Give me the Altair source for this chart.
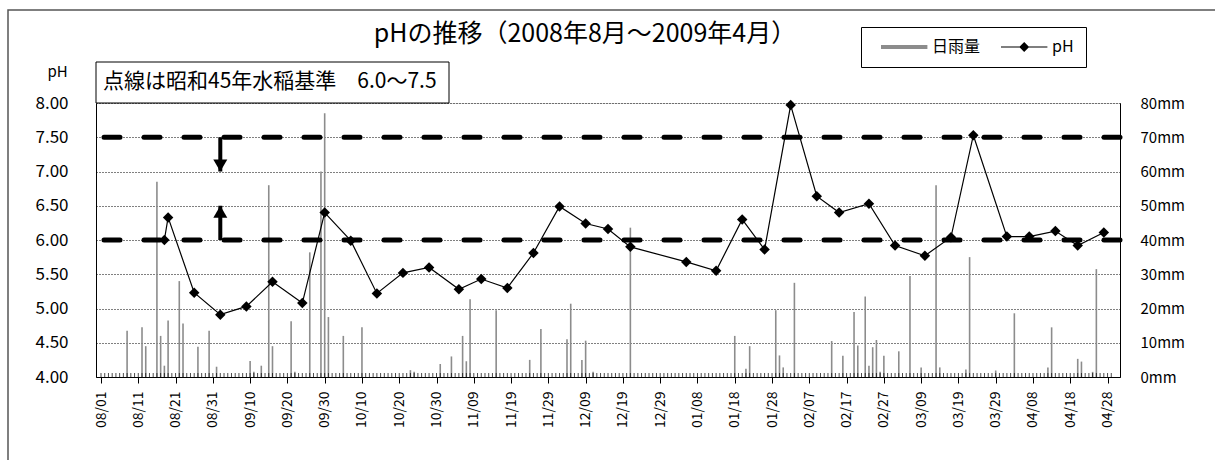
import altair as alt
import pandas as pd

FONT = "Noto Sans CJK JP"

# ---- data ----
ph_dates = ["2008-08-18", "2008-08-19", "2008-08-26", "2008-09-02", "2008-09-09", "2008-09-16",
            "2008-09-24", "2008-09-30", "2008-10-07", "2008-10-14", "2008-10-21", "2008-10-28",
            "2008-11-05", "2008-11-11", "2008-11-18", "2008-11-25", "2008-12-02", "2008-12-09",
            "2008-12-15", "2008-12-21", "2009-01-05", "2009-01-13", "2009-01-20", "2009-01-26",
            "2009-02-02", "2009-02-09", "2009-02-15", "2009-02-23", "2009-03-02", "2009-03-10",
            "2009-03-17", "2009-03-23", "2009-04-01", "2009-04-07", "2009-04-14", "2009-04-20",
            "2009-04-27"]
ph_values = [6.00, 6.33, 5.23, 4.91, 5.03, 5.39,
             5.08, 6.40, 5.99, 5.22, 5.52, 5.60,
             5.28, 5.43, 5.30, 5.81, 6.49, 6.24,
             6.16, 5.90, 5.68, 5.55, 6.30, 5.86,
             7.97, 6.64, 6.40, 6.53, 5.92, 5.77,
             6.04, 7.53, 6.05, 6.05, 6.13, 5.92,
             6.11]

rain_dates = ["2008-08-08", "2008-08-12", "2008-08-13", "2008-08-16", "2008-08-17", "2008-08-18",
              "2008-08-19", "2008-08-22", "2008-08-23", "2008-08-27", "2008-08-30", "2008-09-01",
              "2008-09-10", "2008-09-11", "2008-09-13", "2008-09-15", "2008-09-16", "2008-09-21",
              "2008-09-22", "2008-09-26", "2008-09-29", "2008-09-30", "2008-10-01", "2008-10-05",
              "2008-10-10", "2008-10-23", "2008-10-24", "2008-10-31", "2008-11-03", "2008-11-06",
              "2008-11-07", "2008-11-08", "2008-11-15", "2008-11-24", "2008-11-27", "2008-12-04",
              "2008-12-05", "2008-12-08", "2008-12-09", "2008-12-11", "2008-12-21", "2009-01-18",
              "2009-01-21", "2009-01-22", "2009-01-29", "2009-01-30", "2009-01-31", "2009-02-03",
              "2009-02-13", "2009-02-16", "2009-02-19", "2009-02-20", "2009-02-22", "2009-02-23",
              "2009-02-24", "2009-02-25", "2009-02-26", "2009-02-27", "2009-03-03", "2009-03-06",
              "2009-03-09", "2009-03-13", "2009-03-14", "2009-03-21", "2009-03-22", "2009-03-29",
              "2009-04-03", "2009-04-12", "2009-04-13", "2009-04-20", "2009-04-21", "2009-04-24",
              "2009-04-25"]
rain_mm = [13.5, 14.5, 9.0, 57.0, 12.0, 3.3,
           16.5, 28.0, 15.6, 8.8, 13.5, 3.0,
           4.7, 1.5, 3.3, 56.0, 9.0, 16.3,
           1.5, 36.4, 60.0, 77.0, 17.5, 12.0,
           14.5, 2.0, 1.5, 3.8, 6.0, 12.0,
           4.6, 22.7, 19.5, 5.0, 14.0, 11.0,
           21.4, 5.0, 10.6, 1.5, 43.6, 12.0,
           2.4, 9.0, 19.5, 6.3, 2.8, 27.5,
           10.5, 6.2, 19.0, 9.2, 23.5, 3.3,
           8.7, 10.8, 1.5, 6.2, 7.5, 29.5,
           2.8, 56.0, 2.8, 2.2, 35.0, 1.9,
           18.6, 2.8, 14.5, 5.3, 4.5, 1.5,
           31.5]

tick_dates = ["2008-08-01", "2008-08-11", "2008-08-21", "2008-08-31", "2008-09-10", "2008-09-20",
              "2008-09-30", "2008-10-10", "2008-10-20", "2008-10-30", "2008-11-09", "2008-11-19",
              "2008-11-29", "2008-12-09", "2008-12-19", "2008-12-29", "2009-01-08", "2009-01-18",
              "2009-01-28", "2009-02-07", "2009-02-17", "2009-02-27", "2009-03-09", "2009-03-19",
              "2009-03-29", "2009-04-08", "2009-04-18", "2009-04-28"]
ph_ticks = [4.0, 4.5, 5.0, 5.5, 6.0, 6.5, 7.0, 7.5, 8.0]
mm_ticks = [0, 10, 20, 30, 40, 50, 60, 70, 80]
ref_levels = [6.0, 7.5]
series_names = ["日雨量", "pH"]
title_text = "pHの推移（2008年8月～2009年4月）"
note_text = "点線は昭和45年水稲基準　6.0～7.5"


def dt(s):
    y, m, d = (int(v) for v in s.split("-"))
    return alt.DateTime(year=y, month=m, date=d)


def iso(s):
    return s + "T00:00:00"


ph_df = pd.DataFrame({"date": [iso(d) for d in ph_dates], "pH": ph_values})
rain_df = pd.DataFrame({"date": [iso(d) for d in rain_dates], "mm": rain_mm})
ref_df = pd.DataFrame({"level": ref_levels})
minor_df = pd.DataFrame({
    "date": pd.date_range("2008-08-01", "2009-04-29", freq="D").strftime("%Y-%m-%dT00:00:00").tolist(),
    "base": 4.0,
})
arrow_df = pd.DataFrame({"date": [iso("2008-09-02")] * 2, "y1": [7.5, 6.0], "y2": [7.0, 6.5]})
down_df = pd.DataFrame({"date": [iso("2008-09-02")], "tip": [7.0]})
up_df = pd.DataFrame({"date": [iso("2008-09-02")], "tip": [6.5]})
one_df = pd.DataFrame({"k": [0]})
legend_df = pd.DataFrame({"series": series_names})

# ---- scales and axes ----
x_scale = alt.Scale(domain=[dt("2008-08-01"), dt("2009-04-30")])
x_axis = alt.Axis(values=[dt(d) for d in tick_dates], format="%m/%d", labelAngle=270,
                  labelFont=FONT, labelFontSize=14, labelColor="black", labelPadding=8,
                  labelFlush=False, labelOverlap=False, labelBound=False,
                  tickColor="black", tickSize=6, domainColor="black", grid=False, title=None)
ph_scale = alt.Scale(domain=[4, 8], nice=False, zero=False)
ph_axis = alt.Axis(orient="left", values=ph_ticks, format=".2f", grid=True, gridColor="black",
                   gridDash=[1, 2], gridWidth=1, gridOpacity=1, ticks=False, domainColor="black",
                   labelFont=FONT, labelFontSize=17, labelColor="black", labelPadding=28,
                   title="pH", titleAngle=0, titleX=-39, titleY=-32, titleFont=FONT,
                   titleFontSize=15, titleFontWeight="normal", titleColor="black",
                   titleAlign="center", titleBaseline="middle")
mm_scale = alt.Scale(domain=[0, 80], nice=False, zero=True)
mm_axis = alt.Axis(orient="right", values=mm_ticks, labelExpr="datum.value + 'mm'", grid=False,
                   ticks=False, domainColor="black", labelFont=FONT, labelFontSize=15,
                   labelColor="black", labelPadding=20, title=None)


def X(field="date"):
    return alt.X(field, type="temporal", scale=x_scale, axis=x_axis)


def Yph(field):
    return alt.Y(field, type="quantitative", scale=ph_scale, axis=ph_axis)


# ---- layers ----
frame = alt.Chart(one_df).mark_rect(fillOpacity=0, stroke="#555555", strokeWidth=1.5).encode(
    x=alt.value(-88), x2=alt.value(1140), y=alt.value(-93), y2=alt.value(380))

title = alt.Chart(one_df).mark_text(text=title_text, font=FONT, fontSize=25, align="center",
                                    baseline="alphabetic", color="black").encode(
    x=alt.value(489), y=alt.value(-61))

bars = alt.Chart(rain_df).mark_bar(color="#8c8c8c", size=1.6).encode(
    x=X(), y=alt.Y("mm:Q", scale=mm_scale, axis=mm_axis))

minor = alt.Chart(minor_df).mark_tick(orient="vertical", size=4, thickness=1, color="black",
                                      yOffset=-2).encode(x=X(), y=Yph("base"))
refs = alt.Chart(ref_df).mark_rule(color="black", strokeWidth=5, strokeDash=[16, 24],
                                   strokeCap="round").encode(y=Yph("level"))
shafts = alt.Chart(arrow_df).mark_rule(color="black", strokeWidth=4).encode(
    x=X(), y=Yph("y1"), y2="y2")
head_down = alt.Chart(down_df).mark_point(shape="triangle-down", filled=True, color="black",
                                          size=196, opacity=1, yOffset=-6).encode(x=X(), y=Yph("tip"))
head_up = alt.Chart(up_df).mark_point(shape="triangle-up", filled=True, color="black",
                                      size=196, opacity=1, yOffset=6).encode(x=X(), y=Yph("tip"))
line = alt.Chart(ph_df).mark_line(color="black", strokeWidth=1.2).encode(x=X(), y=Yph("pH"))
pts = alt.Chart(ph_df).mark_point(shape="diamond", filled=True, color="black", size=110,
                                  opacity=1).encode(x=X(), y=Yph("pH"))

ph_layer = alt.layer(minor, refs, shafts, head_down, head_up, line, pts)

note_box = alt.Chart(one_df).mark_rect(fill="white", stroke="black", strokeWidth=1).encode(
    x=alt.value(0), x2=alt.value(353), y=alt.value(-41), y2=alt.value(0))
note = alt.Chart(one_df).mark_text(text=note_text, font=FONT, fontSize=21, align="left",
                                   baseline="middle", color="black").encode(
    x=alt.value(7), y=alt.value(-21))

rain_sym = "M0,-0.25H5.8V0.25H0Z"
ph_sym = "M0,-0.07H5.8V0.07H0Z M2.9,-0.62L3.52,0L2.9,0.62L2.28,0Z"
leg = alt.Legend(title=None, orient="none", legendX=765, legendY=-76, direction="horizontal",
                 strokeColor="black", fillColor="white", padding=12, labelFont=FONT,
                 labelFontSize=16, labelColor="black", symbolSize=256, symbolStrokeWidth=0,
                 symbolOpacity=1, labelOffset=43, columnPadding=12)
legend_layer = alt.Chart(legend_df).mark_point(filled=True).encode(
    color=alt.Color("series:N", scale=alt.Scale(domain=series_names, range=["#8c8c8c", "black"]),
                    legend=leg),
    shape=alt.Shape("series:N", scale=alt.Scale(domain=series_names, range=[rain_sym, ph_sym]),
                    legend=leg),
).transform_filter("datum.series == 'none'")

chart = alt.layer(frame, title, bars, ph_layer, note_box, note, legend_layer).resolve_scale(
    y="independent"
).properties(
    width=1024, height=274,
    autosize=alt.AutoSizeParams(type="none"),
    padding={"left": 96, "top": 103, "right": 95, "bottom": 83},
).configure_view(stroke="black", strokeWidth=1).configure(background="white")

chart.save("out.html", embed_options={"renderer": "svg", "actions": False})
